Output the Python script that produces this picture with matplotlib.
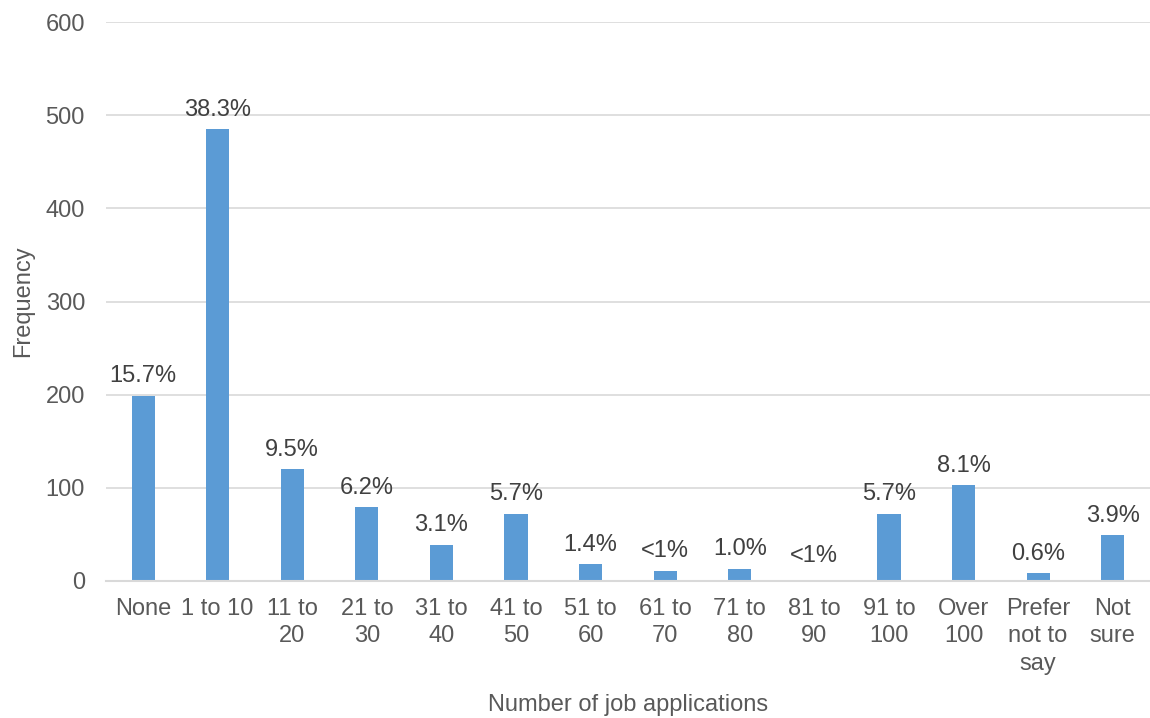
import matplotlib
matplotlib.use("Agg")
import matplotlib.pyplot as plt

categories = ["None", "1 to 10", "11 to\n20", "21 to\n30", "31 to\n40", "41 to\n50",
              "51 to\n60", "61 to\n70", "71 to\n80", "81 to\n90", "91 to\n100",
              "Over\n100", "Prefer\nnot to\nsay", "Not\nsure"]
values = [199, 485, 120, 79, 39, 72, 18, 11, 13, 0, 72, 103, 8, 49]
labels = ["15.7%", "38.3%", "9.5%", "6.2%", "3.1%", "5.7%", "1.4%", "<1%", "1.0%",
          "<1%", "5.7%", "8.1%", "0.6%", "3.9%"]

plt.rcParams['font.family'] = ['Liberation Sans', 'DejaVu Sans']
gray = "#595959"
fs = 17

fig = plt.figure(figsize=(11.5, 7.18), dpi=100)
ax = fig.add_axes([0.092, 0.191, 0.908, 0.778])

x = list(range(len(categories)))
bars = ax.bar(x, values, width=0.31, color="#5B9BD5", zorder=3)
for xi, v, lab in zip(x, values, labels):
    off = 10 if v == 0 else 6
    ax.annotate(lab, (xi, v), xytext=(0, off), textcoords="offset points",
                ha="center", va="bottom", fontsize=fs, color="#404040")

ax.set_ylim(0, 600)
ax.set_yticks(range(0, 601, 100))
ax.set_xlim(-0.5, len(categories) - 0.5)
ax.set_xticks(x)
ax.set_xticklabels(categories, fontsize=fs, color=gray, linespacing=1.33)
ax.tick_params(axis='y', labelsize=fs, colors=gray, length=0, pad=15)
ax.tick_params(axis='x', length=0, pad=12)
ax.grid(axis='y', color="#D9D9D9", linewidth=1.2, zorder=0)
for s in ["top", "right", "left"]:
    ax.spines[s].set_visible(False)
ax.spines["bottom"].set_color("#D9D9D9")
ax.spines["bottom"].set_linewidth(1.5)
ax.spines["bottom"].set_zorder(4)

ax.set_ylabel("Frequency", fontsize=fs, color=gray, labelpad=8)
ax.set_xlabel("Number of job applications", fontsize=fs, color=gray, labelpad=14)

fig.savefig("out.png", dpi=100)
